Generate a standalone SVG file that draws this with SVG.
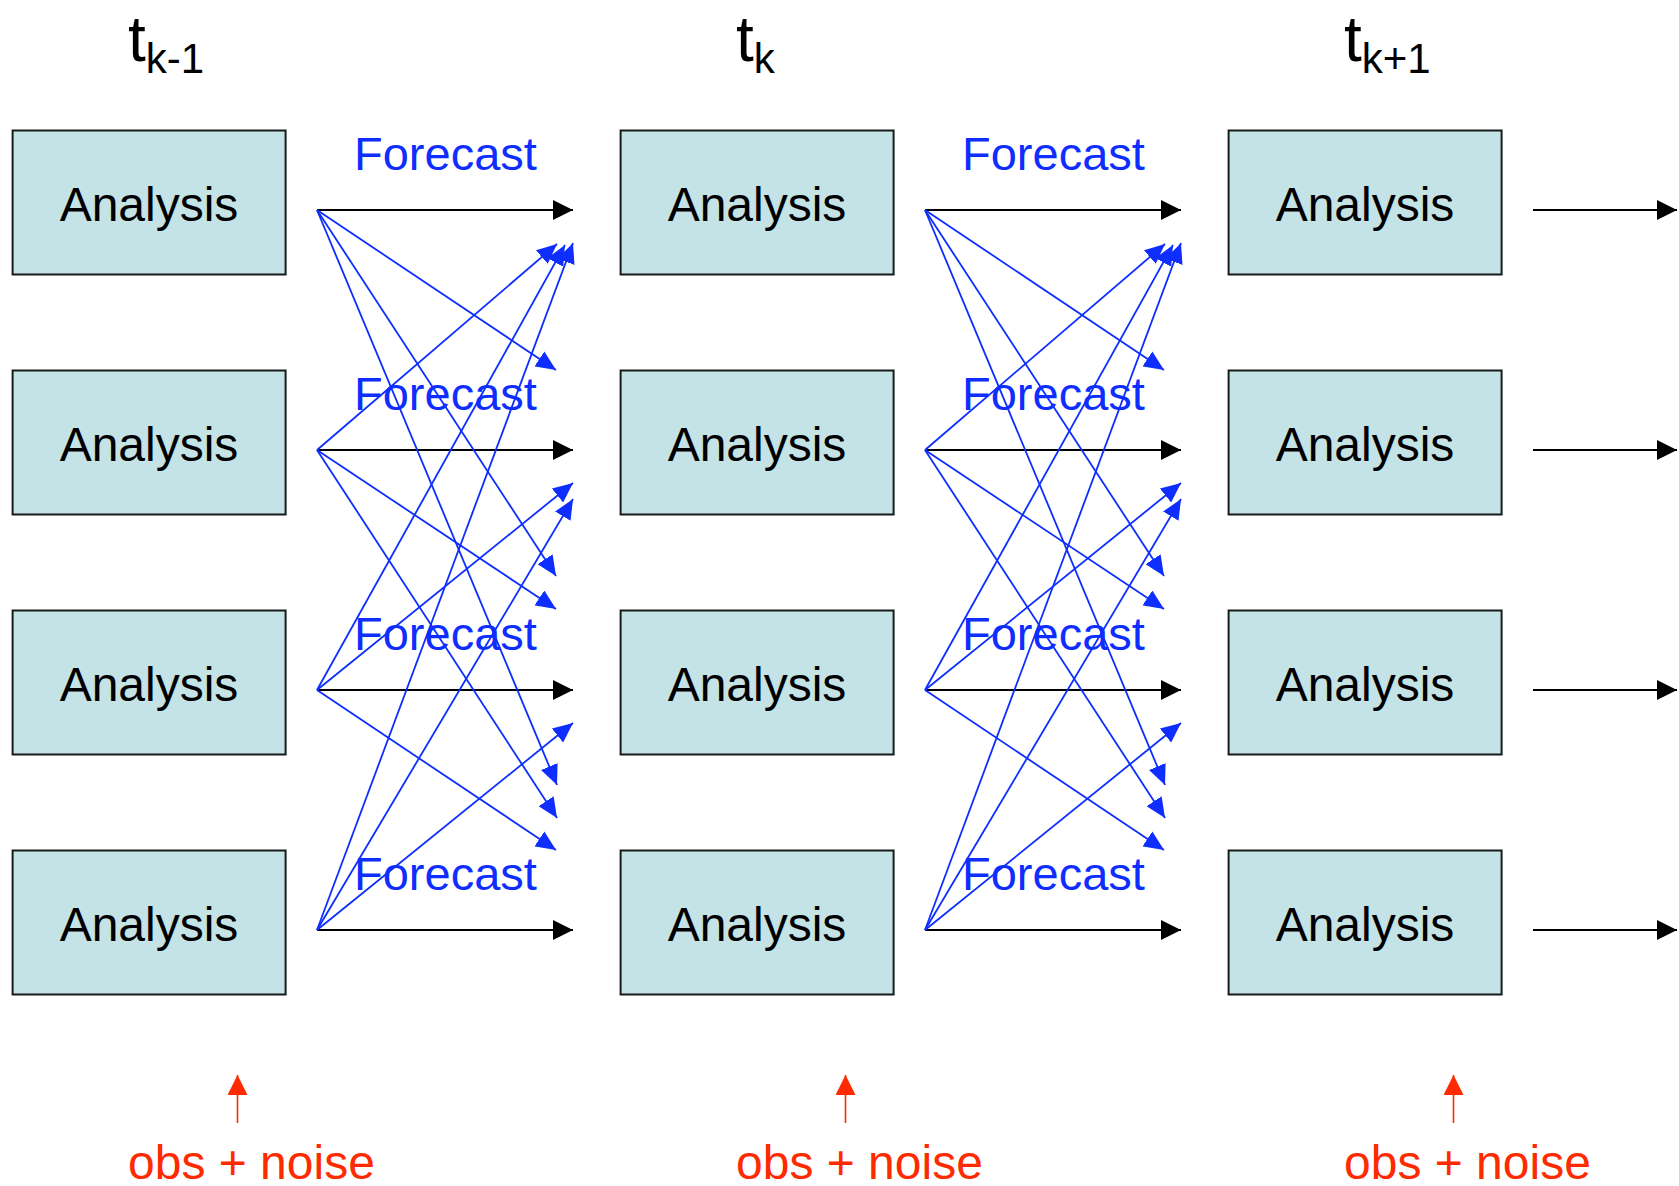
<svg xmlns="http://www.w3.org/2000/svg" width="1679" height="1186" viewBox="0 0 1679 1186">
<style>
.box{fill:#C4E3E6;stroke:#1a1a1a;stroke-width:2}
.lbl{font-family:"Liberation Sans",Arial,sans-serif;font-size:48px;fill:#000;text-anchor:middle}
.title{font-family:"Liberation Sans",Arial,sans-serif;fill:#000}
.fc{font-family:"Liberation Sans",Arial,sans-serif;font-size:47px;fill:#0D2EFF}
.obs{font-family:"Liberation Sans",Arial,sans-serif;font-size:48px;fill:#FF2A00}
.blk{stroke:#000;stroke-width:2;fill:none;marker-end:url(#ab)}
.blu{stroke:#0D2EFF;stroke-width:1.8;fill:none;marker-end:url(#au)}
.red{stroke:#FF2A00;stroke-width:1.6;fill:none;marker-end:url(#ar)}
</style>
<defs>
<marker id="ab" markerUnits="userSpaceOnUse" markerWidth="20" markerHeight="20" refX="20" refY="10" orient="auto"><path d="M0,0 L20,10 L0,20 z" fill="#000"/></marker>
<marker id="au" markerUnits="userSpaceOnUse" markerWidth="20" markerHeight="18" refX="20" refY="9" orient="auto"><path d="M0,0 L20,9 L0,18 z" fill="#0D2EFF"/></marker>
<marker id="ar" markerUnits="userSpaceOnUse" markerWidth="20" markerHeight="20" refX="20" refY="10" orient="auto"><path d="M0,0 L20,10 L0,20 z" fill="#FF2A00"/></marker>
</defs>
<rect width="1679" height="1186" fill="#fff"/>

<g id="titles">
<text class="title" x="128" y="61" font-size="64">t<tspan font-size="42" dy="12">k-1</tspan></text>
<text class="title" x="736" y="61" font-size="64">t<tspan font-size="42" dy="12">k</tspan></text>
<text class="title" x="1344" y="61" font-size="64">t<tspan font-size="42" dy="12">k+1</tspan></text>
</g>

<g id="n-c1-r1"><rect class="box" x="12.6" y="130.5" width="273" height="144"/><text class="lbl" x="149" y="220.5">Analysis</text></g>
<g id="n-c1-r2"><rect class="box" x="12.6" y="370.5" width="273" height="144"/><text class="lbl" x="149" y="460.5">Analysis</text></g>
<g id="n-c1-r3"><rect class="box" x="12.6" y="610.5" width="273" height="144"/><text class="lbl" x="149" y="700.5">Analysis</text></g>
<g id="n-c1-r4"><rect class="box" x="12.6" y="850.5" width="273" height="144"/><text class="lbl" x="149" y="940.5">Analysis</text></g>
<g id="n-c2-r1"><rect class="box" x="620.6" y="130.5" width="273" height="144"/><text class="lbl" x="757" y="220.5">Analysis</text></g>
<g id="n-c2-r2"><rect class="box" x="620.6" y="370.5" width="273" height="144"/><text class="lbl" x="757" y="460.5">Analysis</text></g>
<g id="n-c2-r3"><rect class="box" x="620.6" y="610.5" width="273" height="144"/><text class="lbl" x="757" y="700.5">Analysis</text></g>
<g id="n-c2-r4"><rect class="box" x="620.6" y="850.5" width="273" height="144"/><text class="lbl" x="757" y="940.5">Analysis</text></g>
<g id="n-c3-r1"><rect class="box" x="1228.6" y="130.5" width="273" height="144"/><text class="lbl" x="1365" y="220.5">Analysis</text></g>
<g id="n-c3-r2"><rect class="box" x="1228.6" y="370.5" width="273" height="144"/><text class="lbl" x="1365" y="460.5">Analysis</text></g>
<g id="n-c3-r3"><rect class="box" x="1228.6" y="610.5" width="273" height="144"/><text class="lbl" x="1365" y="700.5">Analysis</text></g>
<g id="n-c3-r4"><rect class="box" x="1228.6" y="850.5" width="273" height="144"/><text class="lbl" x="1365" y="940.5">Analysis</text></g>

<g id="connectors">
<g id="c1">
<line class="blk" x1="317" y1="210" x2="573" y2="210"/>
<line class="blk" x1="317" y1="450" x2="573" y2="450"/>
<line class="blk" x1="317" y1="690" x2="573" y2="690"/>
<line class="blk" x1="317" y1="930" x2="573" y2="930"/>
<line class="blu" x1="317" y1="210" x2="556" y2="370"/>
<line class="blu" x1="317" y1="210" x2="556" y2="576"/>
<line class="blu" x1="317" y1="450" x2="556" y2="609"/>
<line class="blu" x1="317" y1="210" x2="557" y2="785"/>
<line class="blu" x1="317" y1="450" x2="557" y2="818"/>
<line class="blu" x1="317" y1="690" x2="556" y2="850"/>
<line class="blu" x1="317" y1="450" x2="557" y2="244"/>
<line class="blu" x1="317" y1="690" x2="565" y2="245"/>
<line class="blu" x1="317" y1="930" x2="573" y2="243"/>
<line class="blu" x1="317" y1="690" x2="573" y2="483"/>
<line class="blu" x1="317" y1="930" x2="573" y2="499"/>
<line class="blu" x1="317" y1="930" x2="573" y2="723"/>
</g>
<g id="c2">
<line class="blk" x1="925" y1="210" x2="1181" y2="210"/>
<line class="blk" x1="925" y1="450" x2="1181" y2="450"/>
<line class="blk" x1="925" y1="690" x2="1181" y2="690"/>
<line class="blk" x1="925" y1="930" x2="1181" y2="930"/>
<line class="blu" x1="925" y1="210" x2="1164" y2="370"/>
<line class="blu" x1="925" y1="210" x2="1164" y2="576"/>
<line class="blu" x1="925" y1="450" x2="1164" y2="609"/>
<line class="blu" x1="925" y1="210" x2="1165" y2="785"/>
<line class="blu" x1="925" y1="450" x2="1165" y2="818"/>
<line class="blu" x1="925" y1="690" x2="1164" y2="850"/>
<line class="blu" x1="925" y1="450" x2="1165" y2="244"/>
<line class="blu" x1="925" y1="690" x2="1173" y2="245"/>
<line class="blu" x1="925" y1="930" x2="1181" y2="243"/>
<line class="blu" x1="925" y1="690" x2="1181" y2="483"/>
<line class="blu" x1="925" y1="930" x2="1181" y2="499"/>
<line class="blu" x1="925" y1="930" x2="1181" y2="723"/>
</g>
<g id="c3">
<line class="blk" x1="1533" y1="210" x2="1677" y2="210"/>
<line class="blk" x1="1533" y1="450" x2="1677" y2="450"/>
<line class="blk" x1="1533" y1="690" x2="1677" y2="690"/>
<line class="blk" x1="1533" y1="930" x2="1677" y2="930"/>
</g>
<g id="obs-arrows">
<line class="red" x1="237.5" y1="1123" x2="237.5" y2="1075"/>
<line class="red" x1="845.5" y1="1123" x2="845.5" y2="1075"/>
<line class="red" x1="1453.5" y1="1123" x2="1453.5" y2="1075"/>
</g>
</g>

<g id="forecast-labels">
<text class="fc" x="354" y="170">Forecast</text>
<text class="fc" x="354" y="410">Forecast</text>
<text class="fc" x="354" y="650">Forecast</text>
<text class="fc" x="354" y="890">Forecast</text>
<text class="fc" x="962" y="170">Forecast</text>
<text class="fc" x="962" y="410">Forecast</text>
<text class="fc" x="962" y="650">Forecast</text>
<text class="fc" x="962" y="890">Forecast</text>
</g>

<g id="obs-labels">
<text class="obs" x="128" y="1179">obs + noise</text>
<text class="obs" x="736" y="1179">obs + noise</text>
<text class="obs" x="1344" y="1179">obs + noise</text>
</g>
</svg>
